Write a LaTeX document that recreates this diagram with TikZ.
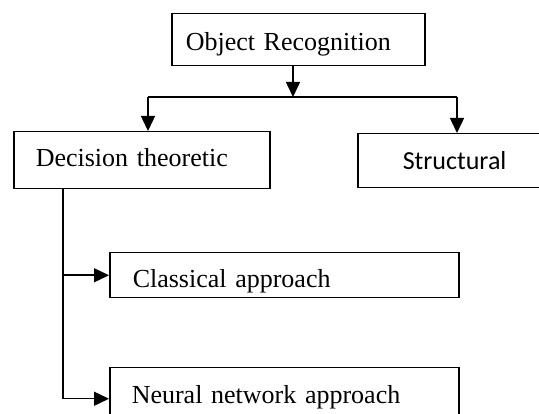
\documentclass[tikz,border=0pt]{standalone}
\usepackage{fontspec}
\setmainfont{Liberation Serif}
\newfontfamily\carl{Carlito}
\usetikzlibrary{arrows.meta}
\tikzset{
  blk/.style={draw, line width=1.5pt, anchor=north west, inner ysep=0pt, align=left,
    text depth=0pt, font=\fontsize{26}{30}\selectfont},
  arr/.style={line width=1.5pt, -{Triangle[length=15pt,width=14pt]}}
}
\begin{document}
\begin{tikzpicture}[x=1pt,y=-1pt]
            \clip (0,0) rectangle (539,414);
            \node[blk, inner xsep=14pt, text width=225pt, minimum height=52pt, text height=22pt] (obj) at (171,13) {Object Recognition};
            \node[blk, inner xsep=22pt, text width=212pt, minimum height=57pt, text height=13pt] (dec) at (13,131) {Decision theoretic};
            \node[blk, inner xsep=45pt, text width=150pt, minimum height=54pt, text height=18pt, font=\fontsize{26}{30}\selectfont\carl] (str) at (357,133) {Structural};
            \node[blk, inner xsep=23pt, text width=303pt, minimum height=45pt, text height=25pt] (cla) at (109,252) {Classical approach};
            \node[blk, inner xsep=22pt, text width=305pt, minimum height=62pt, text height=10pt] (neu) at (109,367) {Neural network approach};
            \coordinate (mid) at (293,97);
            \coordinate (bl) at (148,97);
            \coordinate (br) at (457,97);
            \coordinate (trunk) at (63,0);
            \draw[arr] (mid |- obj.south) -- (mid);
            \draw[line width=1.5pt] (bl) -- (br);
            \draw[arr] (bl) -- (bl |- dec.north);
            \draw[arr] (br) -- (br |- str.north);
            \draw[arr] (trunk |- dec.south) |- (neu.west);
            \draw[arr] (trunk |- cla.west) -- (cla.west);
          \end{tikzpicture}
\end{document}
